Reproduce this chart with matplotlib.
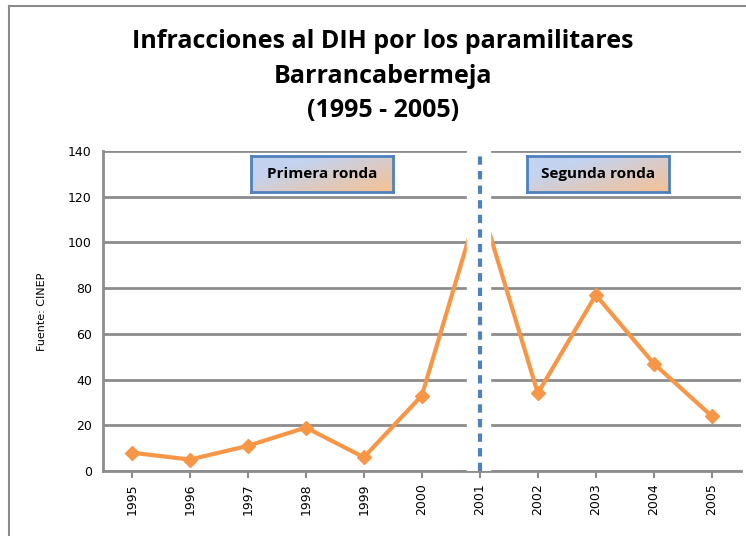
import matplotlib.pyplot as plt
import numpy as np
from matplotlib.lines import Line2D
from matplotlib.colors import to_rgb

years = ['1995', '1996', '1997', '1998', '1999', '2000', '2001', '2002', '2003', '2004', '2005']
infracciones = [8, 5, 11, 19, 6, 33, 118, 34, 77, 47, 24]
yticks = [0, 20, 40, 60, 80, 100, 120, 140]
rondas = ['Primera ronda', 'Segunda ronda']

orange = '#f79646'
blue = '#4f81bd'
grid_gray = '#8c8c8c'
narrow = ['Open Sans', 'DejaVu Sans']

fig = plt.figure(figsize=(7.46, 5.36), dpi=100)
ax = fig.add_axes([0.138, 0.1213, 0.855, 0.597])

x = np.arange(len(years))
ax.plot(x, infracciones, color=orange, lw=3, marker='D', ms=7, zorder=3)

# white band hiding the peak at 2001, with the dashed split line on top
ax.axvspan(5.77, 6.18, color='white', zorder=4)
ax.plot([6, 6], [0, 140], color=blue, lw=3, ls=(0, (2, 1.5)), zorder=5, solid_capstyle='round')

ax.set_xlim(-0.5, 10.5)
ax.set_ylim(0, 140)
ax.set_yticks(yticks)
ax.set_xticks(x)
ax.set_xticklabels(years, rotation=90, fontsize=9)
ax.tick_params(axis='y', length=0, labelsize=9, pad=8)
ax.tick_params(axis='x', length=5, width=1.5, color=grid_gray, pad=4)
ax.grid(axis='y', color=grid_gray, lw=2, zorder=1)
ax.set_axisbelow(True)
for s in ['top', 'right']:
    ax.spines[s].set_visible(False)
for s in ['left', 'bottom']:
    ax.spines[s].set_color(grid_gray)
    ax.spines[s].set_linewidth(2)

# gradient boxes for each round
c1 = np.array(to_rgb('#c3d3f0'))
c2 = np.array(to_rgb('#f8c08e'))
gx, gy = np.meshgrid(np.linspace(0, 1, 100), np.linspace(0, 1, 30))
t = np.clip(0.7 * gx + 0.6 * gy - 0.35, 0, 1)[..., None]
grad = c1 * (1 - t) + c2 * t

for label, bx in zip(rondas, [2.05, 6.82]):
    bax = ax.inset_axes([bx, 122, 2.45, 15.8], transform=ax.transData, zorder=6)
    bax.imshow(grad, aspect='auto', extent=[0, 1, 0, 1], origin='upper')
    bax.set_xticks([])
    bax.set_yticks([])
    for s in bax.spines.values():
        s.set_color(blue)
        s.set_linewidth(2)
    bax.text(0.5, 0.5, label, ha='center', va='center', fontsize=11,
             fontweight='bold', family=narrow, transform=bax.transAxes)

fig.text(0.513, 0.858, 'Infracciones al DIH por los paramilitares\nBarrancabermeja\n(1995 - 2005)',
         ha='center', va='center', fontsize=18, fontweight='bold', linespacing=1.52,
         family=narrow)
fig.text(42 / 746, 0.418, 'Fuente: CINEP', rotation=90, ha='center', va='center', fontsize=8)

# outer chart frame
fig.add_artist(Line2D([9 / 746, 9 / 746], [0, 1 - 6 / 536], color='#8c8c8c', lw=1.5))
fig.add_artist(Line2D([9 / 746, 1], [1 - 6 / 536, 1 - 6 / 536], color='#8c8c8c', lw=1.5))

fig.savefig('out.png', dpi=100)
